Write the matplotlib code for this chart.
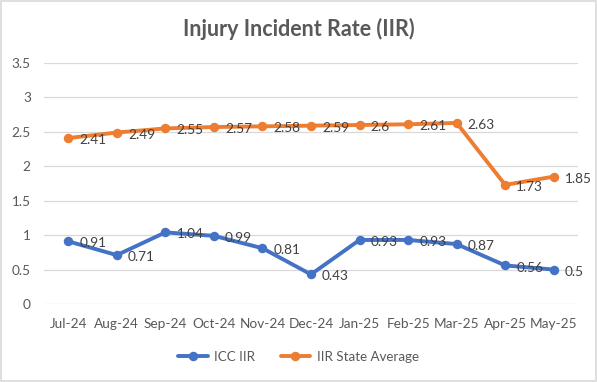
import matplotlib
matplotlib.use("Agg")
import matplotlib.pyplot as plt
from matplotlib.patches import Rectangle

# data
months = ["Jul-24", "Aug-24", "Sep-24", "Oct-24", "Nov-24", "Dec-24",
          "Jan-25", "Feb-25", "Mar-25", "Apr-25", "May-25"]
icc_iir = [0.91, 0.71, 1.04, 0.99, 0.81, 0.43, 0.93, 0.93, 0.87, 0.56, 0.5]
state_avg = [2.41, 2.49, 2.55, 2.57, 2.58, 2.59, 2.6, 2.61, 2.63, 1.73, 1.85]
yticks = [0, 0.5, 1, 1.5, 2, 2.5, 3, 3.5]

plt.rcParams["font.family"] = ["Lato", "DejaVu Sans"]

fig = plt.figure(figsize=(5.97, 3.82), dpi=100)
ax = fig.add_axes([44 / 597, 1 - 304 / 382, (578 - 44) / 597, (304 - 63) / 382])

x = list(range(len(months)))
blue = "#4472C4"
orange = "#ED7D31"
ax.plot(x, icc_iir, color=blue, lw=2.8, marker="o", ms=5.8, label="ICC IIR",
        solid_capstyle="round", zorder=3)
ax.plot(x, state_avg, color=orange, lw=2.8, marker="o", ms=5.8,
        label="IIR State Average", solid_capstyle="round", zorder=3)

# data labels to the right of each point
for series in (icc_iir, state_avg):
    for xi, v in zip(x, series):
        ax.annotate(f"{v:g}", (xi, v), xytext=(8, -1.5), textcoords="offset points",
                    ha="left", va="center", fontsize=9.8, color="#404040", zorder=4)

ax.set_xlim(-0.5, len(months) - 0.5)
ax.set_ylim(0, 3.5)
ax.set_yticks(yticks)
ax.set_yticklabels([f"{t:g}" for t in yticks])
ax.set_xticks(x)
ax.set_xticklabels(months)
ax.tick_params(axis="both", length=0, labelsize=9.8, colors="#595959")
ax.tick_params(axis="y", pad=9.5)
ax.tick_params(axis="x", pad=10)
ax.grid(axis="y", color="#D9D9D9", lw=0.9)
ax.set_axisbelow(True)
for s in ax.spines.values():
    s.set_visible(False)

fig.text(0.5, 1 - 29 / 382, "Injury Incident Rate (IIR)", ha="center", va="center",
         fontsize=15.5, fontweight="bold", color="#595959")

leg = fig.legend(loc="center", bbox_to_anchor=(0.5, 1 - 357 / 382), ncol=2,
                 frameon=False, fontsize=9.6, handlelength=2.2, columnspacing=1.9,
                 handletextpad=0.5)
for t in leg.get_texts():
    t.set_color("#595959")

# light grey chart border
fig.patches.append(Rectangle((0.002, 0.003), 0.996, 0.994, transform=fig.transFigure,
                             fill=False, edgecolor="#D9D9D9", lw=1.2))

fig.savefig("out.png", dpi=100)
